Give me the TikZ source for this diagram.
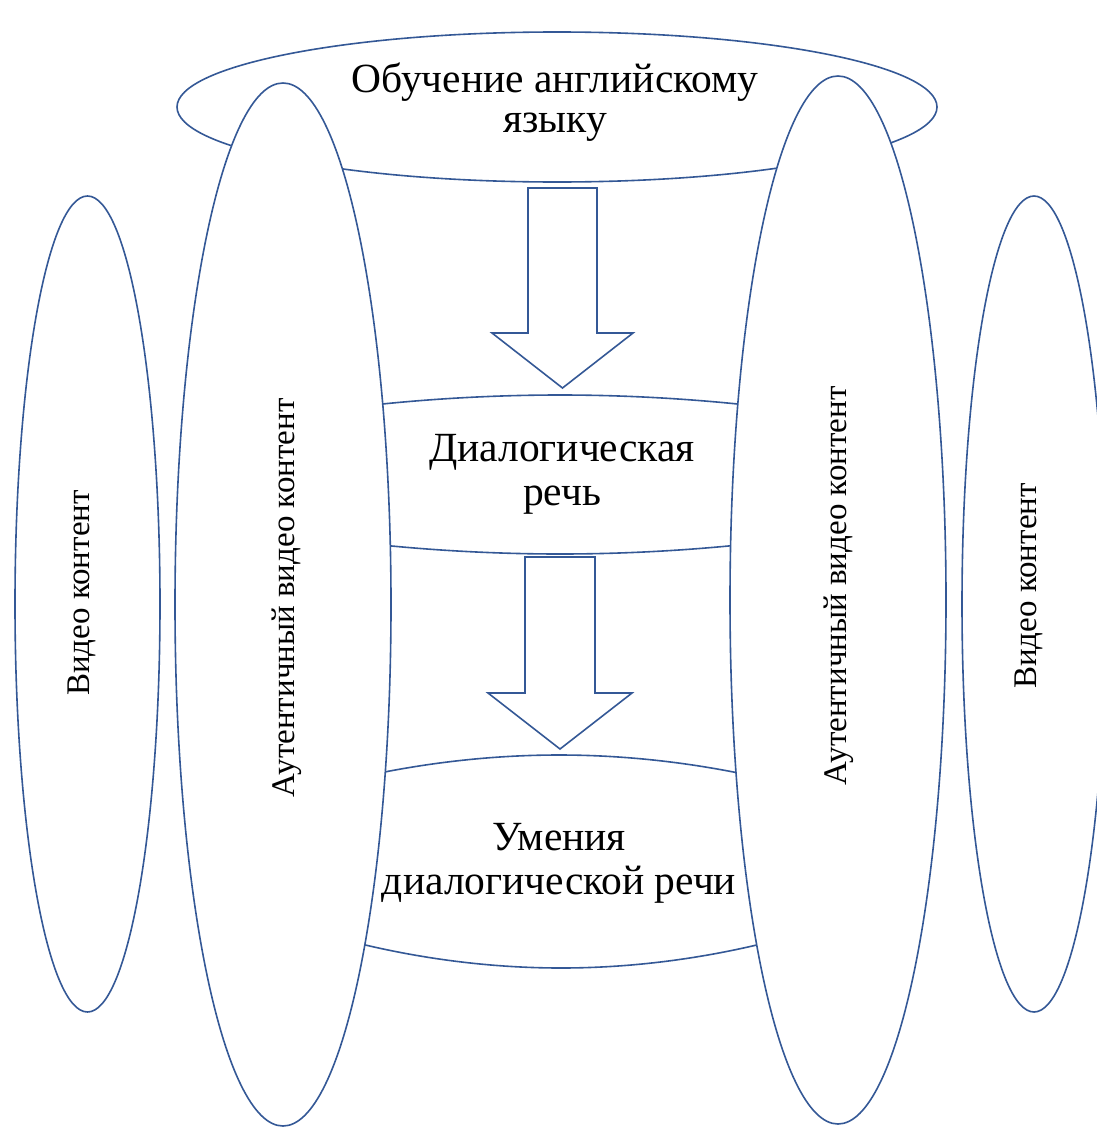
\documentclass[tikz,border=0pt]{standalone}
\usepackage{fontspec}
\setmainfont{Liberation Serif}
\usetikzlibrary{shapes.geometric}
\definecolor{lineblue}{RGB}{52,88,150}
\begin{document}
\begin{tikzpicture}[x=1pt,y=-1pt,
  outline/.style={draw=lineblue, line width=1.6pt},
  oval/.style={outline, ellipse, inner sep=0pt, fill=white},
  vlabel/.style={rotate=90, inner sep=0pt, font=\fontsize{33}{38}\selectfont},
  hlabel/.style={align=center, inner sep=0pt, font=\fontsize{41.5}{44}\selectfont},
  blockarrow/.style={outline, fill=white, line join=miter}]
\path[use as bounding box, fill=white] (0,0) rectangle (1096,1127);
% outer ellipses
\node[oval, minimum width=145pt, minimum height=816pt] (vidL) at (87.5,604) {};
\node[oval, minimum width=144pt, minimum height=816pt] (vidR) at (1034,604) {};
% top ellipse
\node[oval, minimum width=760pt, minimum height=150pt] (teachOval) at (557,107) {};
% middle band edges
\draw[outline] (320,411.5) parabola bend (560,395) (800,411.5);
\draw[outline] (320,537.7) parabola bend (560,554) (800,537.7);
\draw[outline] (319,787.3) parabola bend (559,755) (799,787.3);
\draw[outline] (311,930.3) parabola bend (561,968) (811,930.3);
% inner ellipses
\node[oval, minimum width=216pt, minimum height=1043pt] (autL) at (283,604.5) {};
\node[oval, minimum width=216pt, minimum height=1048pt] (autR) at (838,600) {};
% block arrows
\draw[blockarrow] (528,188) -- (597,188) -- (597,333) -- (633,333) -- (562.5,388) -- (492,333) -- (528,333) -- cycle;
\draw[blockarrow] (525,557) -- (595,557) -- (595,693) -- (632,693) -- (560,749) -- (488,693) -- (525,693) -- cycle;
% texts
\node[hlabel, font=\fontsize{41.5}{40}\selectfont] (teach) at (555,102.5) {Обучение английскому\\языку};
\node[hlabel] (dial) at (562,474) {Диалогическая\\речь};
\node[hlabel] (skills) at (559,863) {Умения\\диалогической речи};
\node[vlabel] (tVL) at (82,593) {Видео контент};
\node[vlabel] (tAL) at (286.5,598) {Аутентичный видео контент};
\node[vlabel] (tAR) at (839,586) {Аутентичный видео контент};
\node[vlabel] (tVR) at (1028.5,586) {Видео контент};
\end{tikzpicture}
\end{document}
